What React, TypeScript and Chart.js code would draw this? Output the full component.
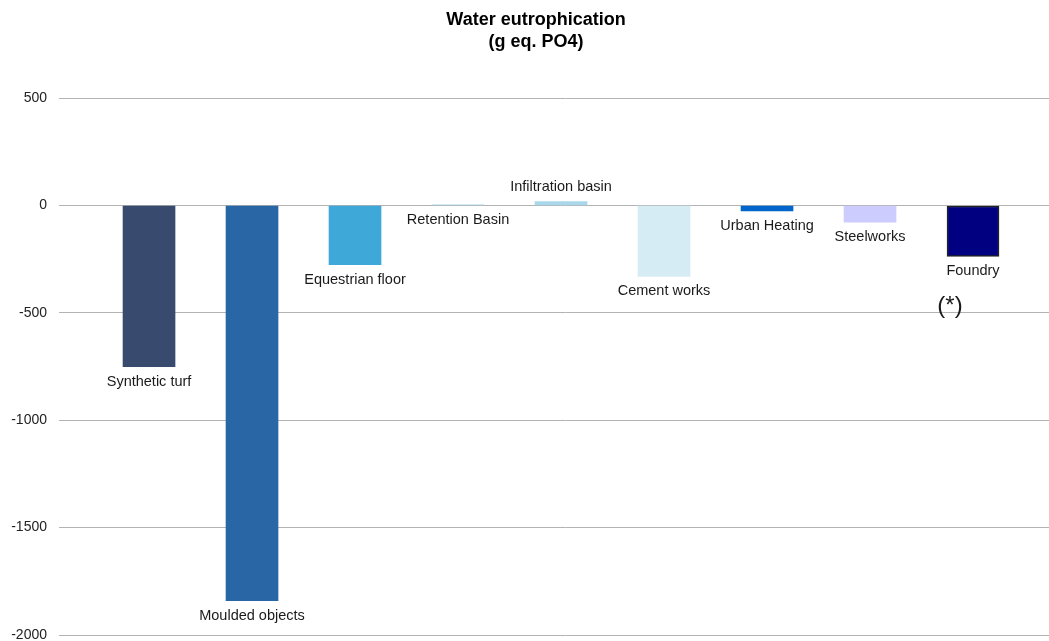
import React, { useEffect, useRef } from "react";
import { Chart, registerables } from "chart.js";

Chart.register(...registerables);

const categories = [
  "Synthetic turf",
  "Moulded objects",
  "Equestrian floor",
  "Retention Basin",
  "Infiltration basin",
  "Cement works",
  "Urban Heating",
  "Steelworks",
  "Foundry",
];
const values = [-750, -1840, -275, 3, 18, -330, -25, -78, -237];
const barColors = [
  "#394A6F",
  "#2866A6",
  "#3EA8D8",
  "#A6D6E8",
  "#A8D8EA",
  "#D6ECF4",
  "#0066CC",
  "#CCCCFF",
  "#000080",
];
const labelAbove = [false, false, false, false, true, false, false, false, false];
const noteIndex = 8;
const noteText = "(*)";
const titleLines = ["Water eutrophication", "(g eq. PO4)"];
const yMin = -2000;
const yMax = 500;
const yStep = 500;

const FONT = "'Liberation Sans', Arial, sans-serif";

const labelPlugin = {
  id: "barLabels",
  afterDatasetsDraw(chart: any) {
    const ctx = chart.ctx;
    const meta = chart.getDatasetMeta(0);
    ctx.save();
    ctx.fillStyle = "#1a1a1a";
    ctx.textAlign = "center";
    ctx.textBaseline = "middle";
    meta.data.forEach((el: any, i: number) => {
      ctx.font = `14.5px ${FONT}`;
      const y = labelAbove[i] ? el.y - 15 : el.y + 15;
      ctx.fillText(categories[i], el.x, y);
      if (i === noteIndex) {
        ctx.font = `24px ${FONT}`;
        ctx.fillText(noteText, el.x - 23, y + 35);
      }
    });
    ctx.restore();
  },
};

export default function App() {
  const ref = useRef<HTMLCanvasElement | null>(null);
  useEffect(() => {
    if (!ref.current) return;
    const chart = new Chart(ref.current, {
      type: "bar",
      data: {
        datasets: [
          {
            data: values.map((v, i) => ({ x: i, y: v })) as any,
            backgroundColor: barColors,
            borderColor: categories.map((_, i) => (i === noteIndex ? "#222222" : "rgba(0,0,0,0)")),
            borderWidth: categories.map((_, i) => (i === noteIndex ? 1.5 : 0)),
            borderSkipped: false,
            barThickness: 52,
          },
        ],
      },
      options: {
        responsive: false,
        animation: false,
        layout: { padding: { left: 0, right: 0, top: 0, bottom: 25 } },
        plugins: {
          legend: { display: false },
          tooltip: { enabled: false },
          title: {
            display: true,
            text: titleLines,
            color: "#000",
            font: { family: FONT, size: 18, weight: "bold", lineHeight: 1.17 },
            padding: { top: 10, bottom: 46 },
          },
        },
        scales: {
          x: {
            type: "linear",
            min: -0.874,
            max: 8.961,
            offset: false,
            display: false,
          },
          y: {
            min: yMin,
            max: yMax,
            ticks: {
              stepSize: yStep,
              color: "#222",
              padding: 12,
              font: { family: FONT, size: 14 },
              callback: (v: any) => String(v),
            },
            grid: { color: "#b3b3b3", drawTicks: false, lineWidth: 1 },
            border: { display: false },
            afterFit(scale: any) {
              scale.width = 59;
            },
          },
        },
      },
      plugins: [labelPlugin],
    } as any);
    return () => chart.destroy();
  }, []);
  return (
    <div
      style={{
        position: "absolute",
        left: 0,
        top: 0,
        width: 1049,
        height: 641,
        overflow: "hidden",
        background: "#fff",
      }}
    >
      <canvas ref={ref} width={1072} height={660} style={{ display: "block" }} />
    </div>
  );
}
